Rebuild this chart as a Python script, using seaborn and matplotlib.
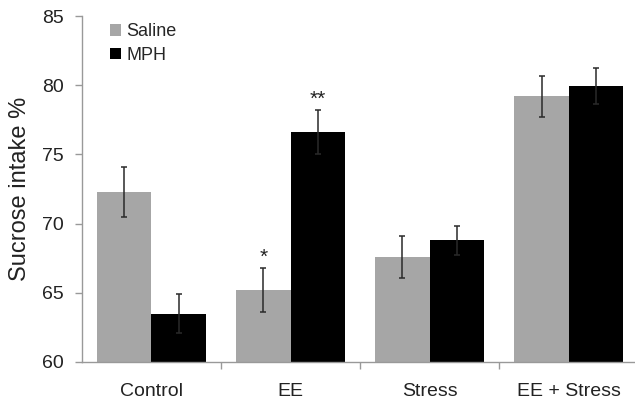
import matplotlib
matplotlib.use("Agg")
import matplotlib.pyplot as plt
import seaborn as sns
import pandas as pd
import numpy as np

groups = ["Control", "EE", "Stress", "EE + Stress"]
treatments = ["Saline", "MPH"]
saline_mean = [72.3, 65.2, 67.6, 79.2]
saline_sem = [1.8, 1.6, 1.5, 1.5]
mph_mean = [63.5, 76.6, 68.8, 79.95]
mph_sem = [1.4, 1.6, 1.05, 1.3]
significance = {("EE", "Saline"): "*", ("EE", "MPH"): "**"}

df = pd.DataFrame({
    "group": groups * 2,
    "treatment": ["Saline"] * 4 + ["MPH"] * 4,
    "intake": saline_mean + mph_mean,
    "err": saline_sem + mph_sem,
})

sns.set_style("white")
plt.rcParams["font.family"] = ["Liberation Sans", "DejaVu Sans"]

fig = plt.figure(figsize=(6.35, 4.04), dpi=100)
ax = fig.add_axes([0.129, 0.104, 0.876, 0.856])

palette = {"Saline": "#a6a6a6", "MPH": "#000000"}
sns.barplot(data=df, x="group", y="intake", hue="treatment", order=groups,
            hue_order=treatments, palette=palette, width=0.78, errorbar=None,
            saturation=1, edgecolor="none", ax=ax)

# error bars and significance markers at each bar's centre
for container, trt in zip(ax.containers, treatments):
    sub = df[df.treatment == trt].set_index("group").loc[groups]
    for patch, (g, row) in zip(container.patches, sub.iterrows()):
        xc = patch.get_x() + patch.get_width() / 2
        mean, err = row["intake"], row["err"]
        ax.errorbar(xc, mean, yerr=err, fmt="none", ecolor="#2a2a2a",
                    elinewidth=1.1, capsize=2.5, capthick=1.1)
        mark = significance.get((g, trt))
        if mark:
            ax.text(xc, mean + err + 0.1, mark, ha="center",
                    va="bottom", fontsize=15, color="#222222")

ax.set_ylim(60, 85)
ax.set_yticks([60, 65, 70, 75, 80, 85])
ax.set_xlim(-0.5, 3.5)
ax.set_xlabel("")
ax.set_ylabel("Sucrose intake %", fontsize=17, color="#222222", labelpad=8)

ax.tick_params(axis="y", which="major", direction="out", length=5, width=1,
               color="#999999", labelsize=14, labelcolor="#222222", pad=8, left=True)
ax.tick_params(axis="x", which="major", length=0, labelsize=14,
               labelcolor="#222222", pad=15)
ax.set_xticks([0.5, 1.5, 2.5], minor=True)
ax.tick_params(axis="x", which="minor", direction="out", length=5, width=1,
               color="#999999", bottom=True)

for side in ["top", "right"]:
    ax.spines[side].set_visible(False)
for side in ["left", "bottom"]:
    ax.spines[side].set_color("#999999")
    ax.spines[side].set_linewidth(1)

leg = ax.legend(loc="upper left", bbox_to_anchor=(0.038, 1.0), frameon=False,
                fontsize=13, handlelength=0.6, handleheight=0.6,
                handletextpad=0.3, labelspacing=0.35, borderaxespad=0)

fig.savefig("out.png", dpi=100)
